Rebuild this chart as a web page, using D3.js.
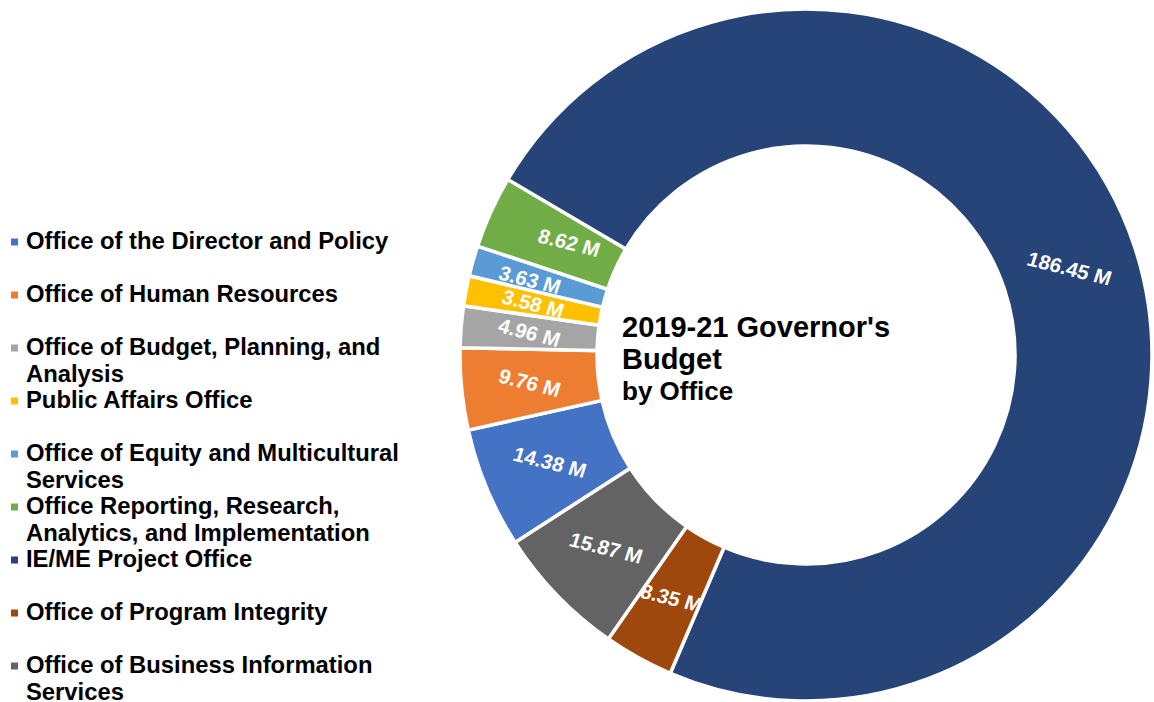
<!DOCTYPE html>
<html>
<head>
<meta charset="utf-8">
<script src="https://cdn.jsdelivr.net/npm/d3@7"></script>
<style>
  html, body { margin: 0; padding: 0; background: #ffffff; }
  svg { display: block; }
  text { font-family: "Liberation Sans", Arial, Helvetica, sans-serif; font-weight: bold; }
</style>
</head>
<body>
<svg id="chart" width="1154" height="702"></svg>
<script>
// Budget by office, in millions of dollars
const categories = [
  "Office of the Director and Policy",
  "Office of Human Resources",
  "Office of Budget, Planning, and\nAnalysis",
  "Public Affairs Office",
  "Office of Equity and Multicultural\nServices",
  "Office Reporting, Research,\nAnalytics, and Implementation",
  "IE/ME Project Office",
  "Office of Program Integrity",
  "Office of Business Information\nServices"
];
const values = [14.38, 9.76, 4.96, 3.58, 3.63, 8.62, 186.45, 8.35, 15.87];
const colors = ["#4472C4", "#ED7D31", "#A5A5A5", "#FFC000", "#5B9BD5",
                "#70AD47", "#264478", "#9E480E", "#636363"];
const titleLines = ["2019-21 Governor's", "Budget", "by Office"];

const data = categories.map((name, i) => ({ name, value: values[i], color: colors[i] }));

// Hand-placed label nudges (pixels) for the crowded thin slices
const labelNudge = {
  "Office of Equity and Multicultural\nServices": [-9, 0],
  "Office Reporting, Research,\nAnalytics, and Implementation": [16, 2]
};

const svg = d3.select("#chart");

// ---- Donut ----
const cx = 806, cy = 355;
const outerR = 346, innerR = 209;
const firstSliceAngle = 237.2 * Math.PI / 180;

const pie = d3.pie()
  .sort(null)
  .value(d => d.value)
  .startAngle(firstSliceAngle)
  .endAngle(firstSliceAngle + 2 * Math.PI);

const arc = d3.arc().innerRadius(innerR).outerRadius(outerR);
const labelArc = d3.arc().innerRadius((innerR + outerR) / 2).outerRadius((innerR + outerR) / 2);

const arcs = pie(data);
const g = svg.append("g").attr("transform", `translate(${cx},${cy})`);

g.selectAll("path.slice")
  .data(arcs)
  .join("path")
  .attr("class", "slice")
  .attr("d", arc)
  .attr("fill", d => d.data.color)
  .attr("stroke", "#ffffff")
  .attr("stroke-width", 3.5)
  .attr("stroke-linejoin", "miter");

g.selectAll("text.value")
  .data(arcs)
  .join("text")
  .attr("class", "value")
  .attr("transform", d => {
    const [x, y] = labelArc.centroid(d);
    const [nx, ny] = labelNudge[d.data.name] || [0, 0];
    return `translate(${x + nx},${y + ny}) rotate(14) skewX(-4)`;
  })
  .attr("text-anchor", "middle")
  .attr("dominant-baseline", "central")
  .attr("fill", "#ffffff")
  .style("font-size", "20.5px")
  .text(d => `${d.data.value.toFixed(2)} M`);

// ---- Centre title ----
const title = svg.append("g").attr("transform", "translate(622,0)");
const titleBaselines = [336.5, 368.5, 400];
const titleSizes = [29, 29, 26];
titleLines.forEach((t, i) => {
  title.append("text")
    .attr("x", 0)
    .attr("y", titleBaselines[i])
    .attr("fill", "#000000")
    .style("font-size", titleSizes[i] + "px")
    .text(t);
});

// ---- Legend ----
const legendTop = 249, legendPitch = 53, lineGap = 27;
const legend = svg.append("g");
const items = legend.selectAll("g.item")
  .data(data)
  .join("g")
  .attr("class", "item")
  .attr("transform", (d, i) => `translate(0,${legendTop + i * legendPitch})`);

items.append("rect")
  .attr("x", 11)
  .attr("y", -10.5)
  .attr("width", 7)
  .attr("height", 7)
  .attr("fill", d => d.color);

items.append("text")
  .attr("x", 26)
  .attr("y", 0)
  .attr("fill", "#000000")
  .style("font-size", "23.8px")
  .selectAll("tspan")
  .data(d => d.name.split("\n"))
  .join("tspan")
  .attr("x", 26)
  .attr("dy", (d, i) => i === 0 ? 0 : lineGap)
  .text(d => d);
</script>
</body>
</html>
